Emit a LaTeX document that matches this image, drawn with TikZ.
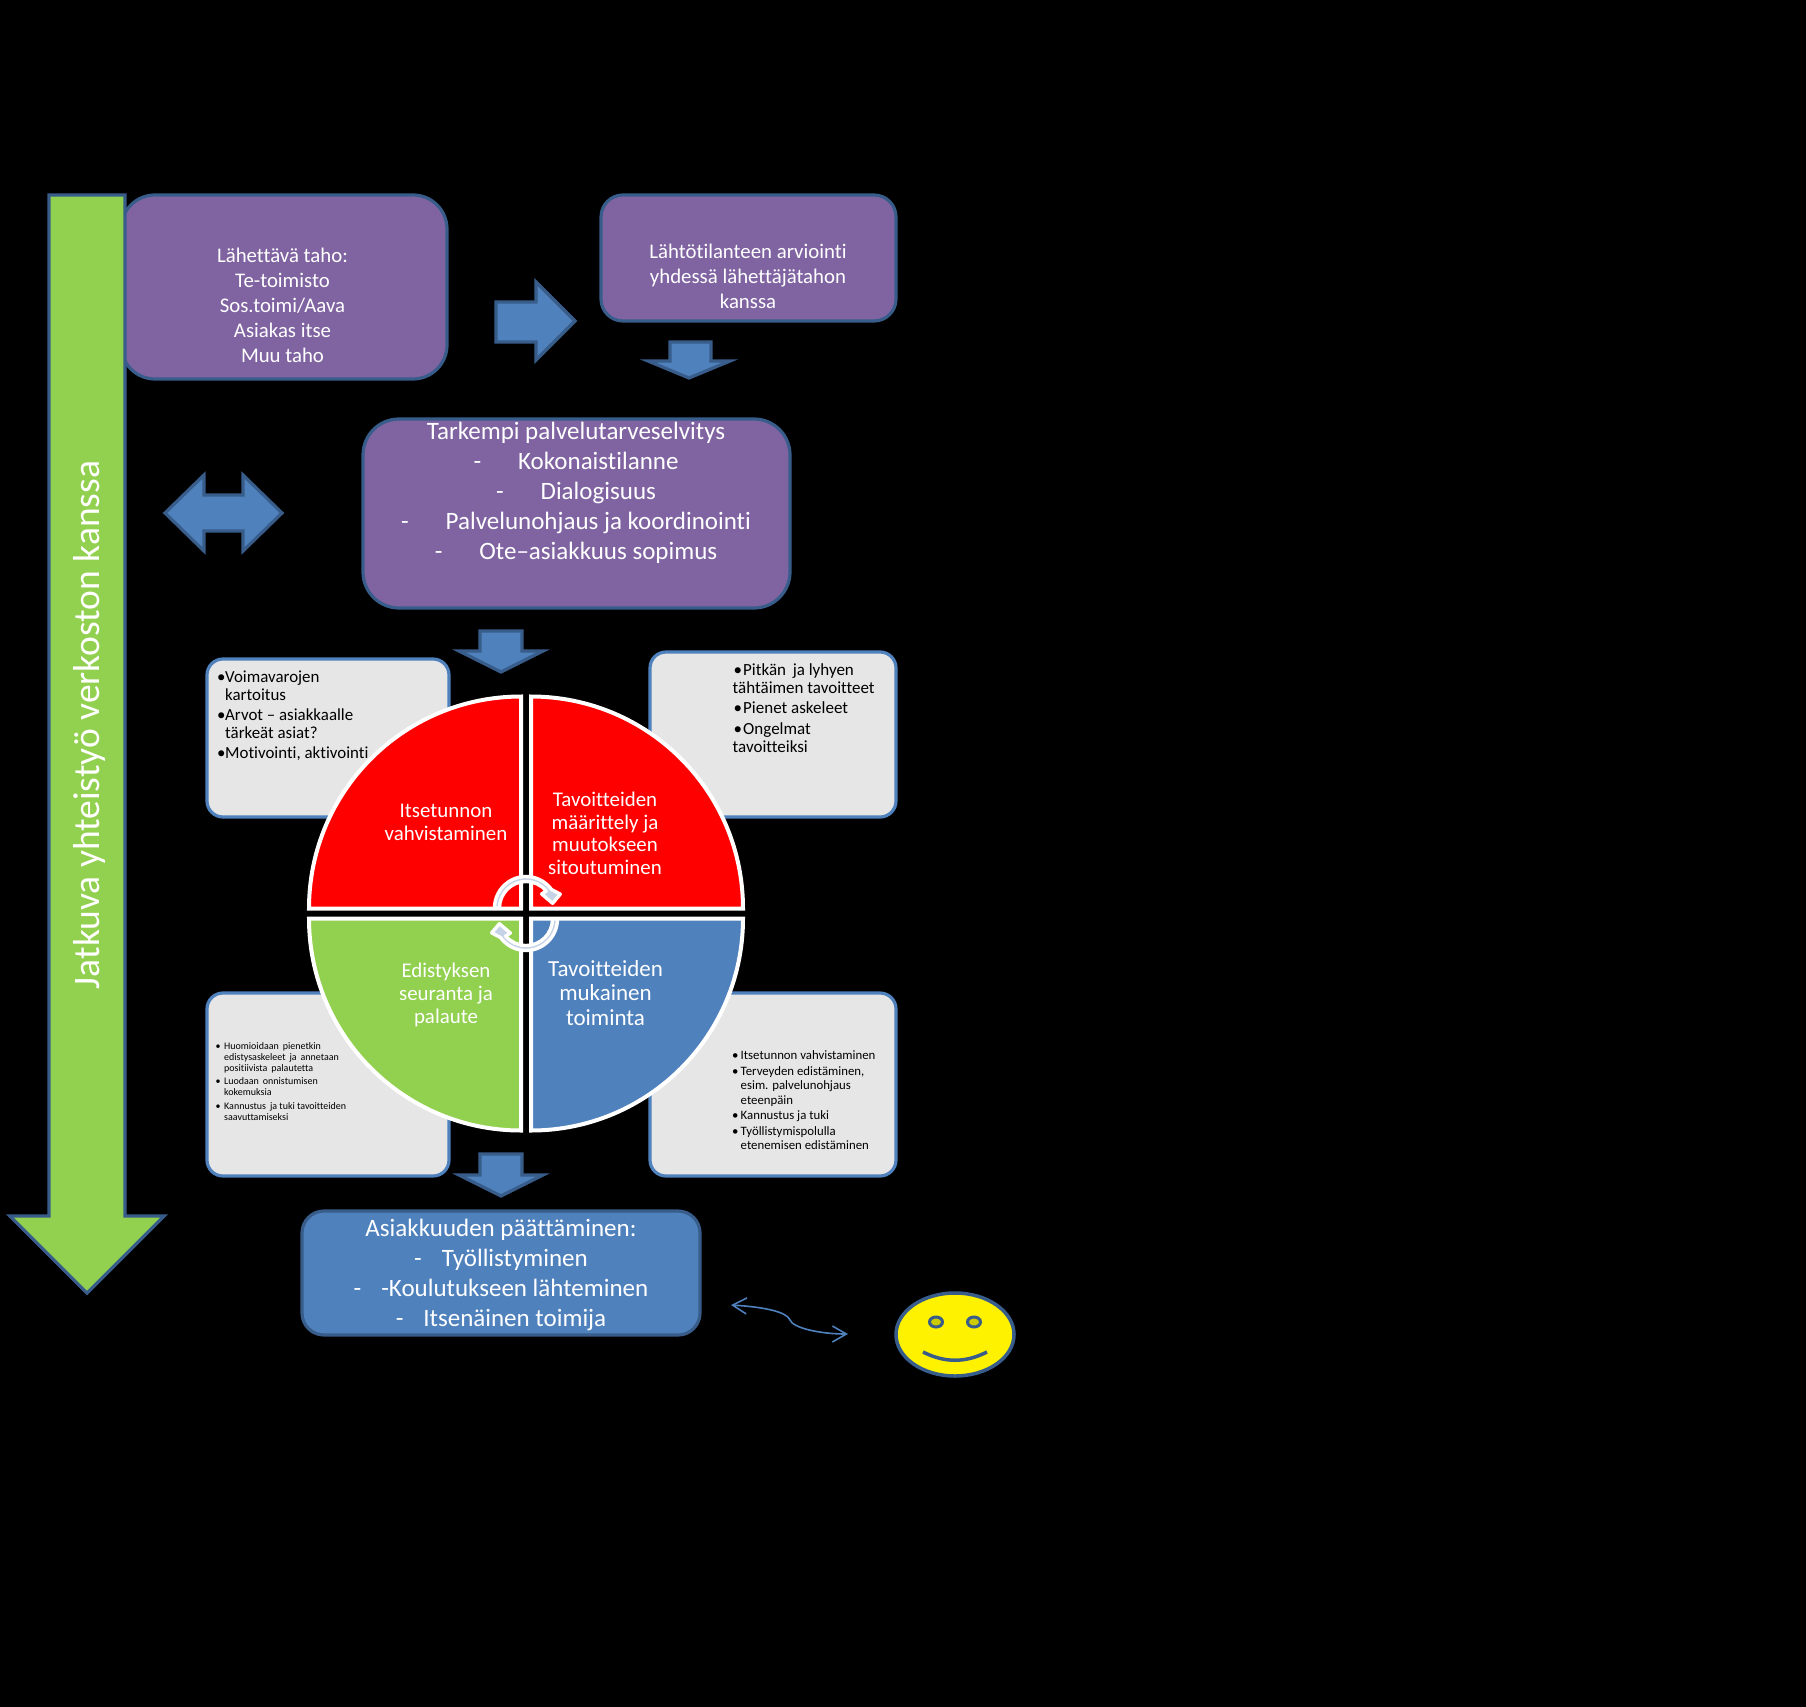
\documentclass[tikz,border=0pt]{standalone}
\usepackage{fontspec}
\setmainfont{Carlito}[Ligatures=NoCommon]
\usetikzlibrary{arrows.meta}
\definecolor{purp}{HTML}{8064A2}
\definecolor{edge}{HTML}{385D8A}
\definecolor{blu}{HTML}{4F81BD}
\definecolor{grn}{HTML}{92D050}
\definecolor{gry}{HTML}{E6E6E6}
\definecolor{cyc}{HTML}{C6D3E6}
\definecolor{eye}{HTML}{CCCC00}
\newcommand{\bu}{\makebox[8pt][l]{•}}
\newcommand{\bux}{\makebox[9.5pt][l]{•}}
\tikzset{
 x=1pt,y=-1pt,
 purplebox/.style={draw=edge,line width=3.2pt,fill=purp,inner sep=0pt},
 bluebox/.style={draw=edge,line width=3.2pt,fill=blu,inner sep=0pt},
 graybox/.style={draw=blu,line width=3.2pt,fill=gry,inner sep=0pt,rounded corners=16pt},
 blockarrow/.style={draw=edge,line width=3.2pt,fill=blu,line join=miter},
 wtext/.style={text=white,align=center,inner sep=0pt},
 ktext/.style={text=black,align=left,inner sep=0pt,anchor=north west},
 quad/.style={draw=white,line width=4pt,line join=miter},
 cycle arrow/.style={fill=cyc,draw=white,line width=3.4pt,line join=round},
}
\begin{document}
\begin{tikzpicture}
\path[fill=black,use as bounding box] (0,0) rectangle (1806,1707);
% purple boxes
\node[purplebox,rounded corners=34pt,minimum width=326pt,minimum height=184pt] (sender) at (284,287) {};
\node[purplebox,rounded corners=22pt,minimum width=295pt,minimum height=126pt] (start) at (748.5,258) {};
\node[purplebox,rounded corners=36pt,minimum width=427pt,minimum height=189pt] (survey) at (576.5,513.5) {};
\node[wtext,font=\fontsize{20.8}{25}\selectfont] (sendert) at (282.5,305) {Lähettävä taho:\\Te-toimisto\\Sos.toimi/Aava\\Asiakas itse\\Muu taho};
\node[wtext,font=\fontsize{20.8}{25}\selectfont] (startt) at (748,276) {Lähtötilanteen arviointi\\yhdessä lähettäjätahon\\kanssa};
\node[wtext,font=\fontsize{25}{30}\selectfont] (surveyt) at (576,493) {Tarkempi palvelutarveselvitys\\-\hspace{37pt}Kokonaistilanne\\-\hspace{37pt}Dialogisuus\\-\hspace{37pt}Palvelunohjaus ja koordinointi\\-\hspace{37pt}Ote–asiakkuus sopimus};
% block arrows
\draw[blockarrow] (496,302) -- (536,302) -- (536,282) -- (575,321) -- (536,360) -- (536,342) -- (496,342) -- cycle;
\draw[blockarrow] (670,342) -- (711,342) -- (711,361) -- (730,361) -- (689,378) -- (648,361) -- (670,361) -- cycle;
\draw[blockarrow] (165,513) -- (204,475) -- (204,495) -- (243,495) -- (243,475) -- (282,513) -- (243,551) -- (243,531) -- (204,531) -- (204,551) -- cycle;
\draw[blockarrow] (480,631) -- (522,631) -- (522,651) -- (543,651) -- (501,672) -- (459,651) -- (480,651) -- cycle;
\draw[blockarrow] (480,1154) -- (522,1154) -- (522,1175) -- (543,1175) -- (501,1196) -- (459,1175) -- (480,1175) -- cycle;
% gray boxes
\node[graybox,minimum width=242pt,minimum height=158pt] (graytl) at (328,738) {};
\node[graybox,minimum width=246pt,minimum height=165pt] (graytr) at (773,734.5) {};
\node[graybox,minimum width=242pt,minimum height=183pt] (graybl) at (328,1084.5) {};
\node[graybox,minimum width=246pt,minimum height=183pt] (graybr) at (773,1084.5) {};
\node[ktext,font=\fontsize{16.9}{18}\selectfont] (graytlt) at (217,670.5) {\bu Voimavarojen\\\hspace*{8pt}kartoitus\\[2pt]\bu Arvot – asiakkaalle\\\hspace*{8pt}tärkeät asiat?\\[2pt]\bu Motivointi, aktivointi};
\node[ktext,font=\fontsize{17}{18}\selectfont] (graytrt) at (732.5,663.5) {\hspace*{1pt}\bux Pitkän\, ja lyhyen\\tähtäimen tavoitteet\\[2pt]\hspace*{1pt}\bux Pienet askeleet\\[2.6pt]\hspace*{1pt}\bux Ongelmat\\tavoitteiksi};
\node[ktext,font=\fontsize{10}{11}\selectfont] (grayblt) at (215.5,1042) {\makebox[8.5pt][l]{•}Huomioidaan\, pienetkin\\\hspace*{8.5pt}edistysaskeleet\, ja\, annetaan\\\hspace*{8.5pt}positiivista\, palautetta\\[2pt]\makebox[8.5pt][l]{•}Luodaan\, onnistumisen\\\hspace*{8.5pt}kokemuksia\\[3pt]\makebox[8.5pt][l]{•}Kannustus\, ja tuki tavoitteiden\\\hspace*{8.5pt}saavuttamiseksi};
\node[ktext,font=\fontsize{12.8}{14.3}\selectfont] (graybrt) at (732,1050.5) {\makebox[8.5pt][l]{•}Itsetunnon vahvistaminen\\[1.5pt]\makebox[8.5pt][l]{•}Terveyden edistäminen,\\\hspace*{8.5pt}esim. palvelunohjaus\\\hspace*{8.5pt}eteenpäin\\[1.5pt]\makebox[8.5pt][l]{•}Kannustus ja tuki\\[1.5pt]\makebox[8.5pt][l]{•}Työllistymispolulla\\\hspace*{8.5pt}etenemisen edistäminen};
% quadrants
\draw[quad,fill=red] (521,908.5) -- (309,908.5) arc[start angle=180,end angle=90,radius=212pt] -- cycle;
\draw[quad,fill=red] (531,908.5) -- (531,696.5) arc[start angle=90,end angle=0,radius=212pt] -- cycle;
\draw[quad,fill=grn] (521,918.5) -- (521,1130.5) arc[start angle=270,end angle=180,radius=212pt] -- cycle;
\draw[quad,fill=blu] (531,918.5) -- (743,918.5) arc[start angle=0,end angle=-90,radius=212pt] -- cycle;
\node[wtext,font=\fontsize{20.9}{23}\selectfont] (q1) at (446,822) {Itsetunnon\\vahvistaminen};
\node[wtext,font=\fontsize{20.9}{22.6}\selectfont] (q2) at (605,833.5) {Tavoitteiden\\määrittely ja\\muutokseen\\sitoutuminen};
\node[wtext,font=\fontsize{20.9}{23}\selectfont] (q3) at (446,994.5) {Edistyksen\\seuranta ja\\palaute};
\node[wtext,font=\fontsize{23}{24.5}\selectfont] (q4) at (605.5,993) {Tavoitteiden\\mukainen\\toiminta};
% cycle arrows
\begin{scope}[shift={(526,908)}]
\draw[cycle arrow] (180:26.5pt) arc[start angle=180,end angle=40,radius=26.5pt] -- (42:21pt) -- (10:27pt) -- (22:37pt) -- (36:31.5pt) arc[start angle=36,end angle=180,radius=31.5pt] -- cycle;
\end{scope}
\begin{scope}[shift={(526,919)}]
\draw[cycle arrow] (0:26.5pt) arc[start angle=0,end angle=-140,radius=26.5pt] -- (-138:21pt) -- (-170:27pt) -- (-158:37pt) -- (-144:31.5pt) arc[start angle=-144,end angle=0,radius=31.5pt] -- cycle;
\end{scope}
% bottom box
\node[bluebox,rounded corners=22pt,minimum width=398pt,minimum height=124pt] (end) at (501,1273) {};
\node[wtext,font=\fontsize{25}{30}\selectfont] (endt) at (501,1275) {Asiakkuuden päättäminen:\\-\hspace{20pt}Työllistyminen\\-\hspace{20pt}-Koulutukseen lähteminen\\-\hspace{20pt}Itsenäinen toimija};
% green arrow
\draw[draw=edge,line width=3.2pt,fill=grn,line join=miter] (49,195) -- (125,195) -- (125,1216) -- (164,1216) -- (87,1293) -- (10,1216) -- (49,1216) -- cycle;
\node[wtext,rotate=90,font=\fontsize{37.5}{37.5}\selectfont] (flow) at (89.5,725) {Jatkuva yhteistyö verkoston kanssa};
% smiley
\draw[draw=edge,line width=3.5pt,fill=yellow] (955,1334.5) ellipse[x radius=59pt,y radius=41.5pt];
\draw[draw=edge,line width=3pt,fill=eye] (936,1322) ellipse[x radius=6.5pt,y radius=5pt];
\draw[draw=edge,line width=3pt,fill=eye] (974,1322) ellipse[x radius=6.5pt,y radius=5pt];
\draw[draw=edge,line width=3.5pt] (923,1352) .. controls (945,1363) and (965,1363) .. (987,1352);
% curved double arrow
\coordinate (cl) at (731,1305);
\coordinate (cm) at (790,1320);
\coordinate (cr) at (848,1334);
\draw[blu,line width=1.6pt,{Straight Barb[length=14pt,width=16pt]}-{Straight Barb[length=14pt,width=16pt]}] (cl) .. controls (765,1307) and (787,1312) .. (cm) .. controls (793,1328) and (820,1334) .. (cr);
\end{tikzpicture}
\end{document}
